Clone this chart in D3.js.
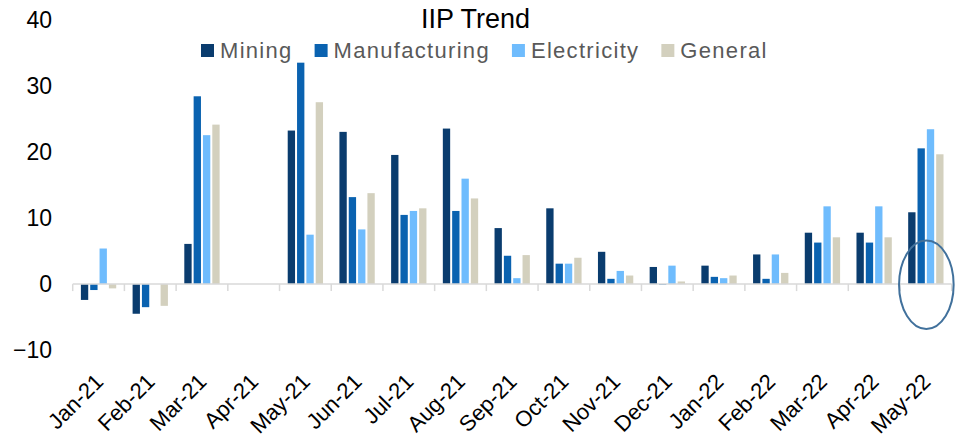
<!DOCTYPE html>
<html>
<head>
<meta charset="utf-8">
<script src="https://cdn.jsdelivr.net/npm/d3@7"></script>
<style>
  html, body { margin: 0; padding: 0; background: #fff; }
  svg { display: block; }
</style>
</head>
<body>
<svg id="chart" width="957" height="440"></svg>
<script>
const months = ["Jan-21","Feb-21","Mar-21","Apr-21","May-21","Jun-21","Jul-21","Aug-21","Sep-21","Oct-21","Nov-21","Dec-21","Jan-22","Feb-22","Mar-22","Apr-22","May-22"];
const seriesNames = ["Mining","Manufacturing","Electricity","General"];
const mining        = [-2.4, -4.5,  6.1, 0, 23.3, 23.1, 19.6, 23.6, 8.5, 11.5, 4.9,  2.6, 2.8, 4.5, 7.8, 7.8, 10.9];
const manufacturing = [-0.9, -3.5, 28.5, 0, 33.6, 13.2, 10.5, 11.1, 4.3,  3.1, 0.8, -0.1, 1.1, 0.8, 6.3, 6.3, 20.6];
const electricity   = [ 5.4,  0.0, 22.6, 0,  7.5,  8.3, 11.1, 16.0, 0.9,  3.1, 2.0,  2.8, 0.9, 4.5, 11.8, 11.8, 23.5];
const general       = [-0.65,-3.3, 24.2, 0, 27.6, 13.8, 11.5, 13.0, 4.4,  4.0, 1.3,  0.4, 1.3, 1.7, 7.1, 7.1, 19.7];
const yTicks = [-10, 0, 10, 20, 30, 40];
const colors = ["#0a3c6e", "#0a62b0", "#6fbcfd", "#d3d0be"];

const seriesValues = [mining, manufacturing, electricity, general];
const rows = months.map((m, i) => ({ month: m, values: seriesNames.map((s, j) => ({ key: s, value: seriesValues[j][i] })) }));

const svg = d3.select("#chart");

const x0 = d3.scaleBand().domain(months).range([72.7, 951.7]).padding(0);
const x1 = d3.scaleBand().domain(seriesNames).range([0, x0.bandwidth()]).paddingInner(0.215).paddingOuter(0.878);
const y = d3.scaleLinear().domain([-10, 40]).range([350, 20.5]);
const color = d3.scaleOrdinal().domain(seriesNames).range(colors);

// Y axis labels (no line)
const yAxis = d3.axisLeft(y).tickValues(yTicks).tickSize(0).tickPadding(0).tickFormat(d3.format("d"));
const yg = svg.append("g").attr("transform", "translate(52,0)").call(yAxis);
yg.select(".domain").remove();
yg.selectAll("text").attr("font-family", "Liberation Sans, Arial, sans-serif").attr("font-size", 23).attr("fill", "#000");

// Bars
const groups = svg.append("g").selectAll("g").data(rows).join("g")
  .attr("transform", d => `translate(${x0(d.month)},0)`);
groups.selectAll("rect").data(d => d.values).join("rect")
  .attr("x", d => x1(d.key))
  .attr("width", x1.bandwidth())
  .attr("y", d => y(Math.max(0, d.value)))
  .attr("height", d => Math.abs(y(d.value) - y(0)))
  .attr("fill", d => color(d.key));

// X axis line with ticks at band boundaries
const xg = svg.append("g");
xg.append("line").attr("x1", x0.range()[0]).attr("x2", x0.range()[1])
  .attr("y1", y(0)).attr("y2", y(0)).attr("stroke", "#d9d9d9").attr("stroke-width", 1.5);
xg.selectAll("line.tk").data(months.concat(["__end"])).join("line").attr("class", "tk")
  .attr("x1", (d, i) => x0.range()[0] + i * x0.step())
  .attr("x2", (d, i) => x0.range()[0] + i * x0.step())
  .attr("y1", y(0)).attr("y2", y(0) + 7)
  .attr("stroke", "#d9d9d9").attr("stroke-width", 1.5);

// X labels rotated
svg.append("g").selectAll("text").data(months).join("text")
  .attr("transform", d => `translate(${x0(d) + x0.bandwidth() / 2 + 6},${383}) rotate(-45)`)
  .attr("text-anchor", "end")
  .attr("font-family", "Liberation Sans, Arial, sans-serif")
  .attr("font-size", 22)
  .attr("fill", "#000")
  .text(d => d);

// Title
svg.append("text").attr("x", 475.5).attr("y", 28).attr("text-anchor", "middle")
  .attr("font-family", "Liberation Sans, Arial, sans-serif").attr("font-size", 27).attr("fill", "#000")
  .text("IIP Trend");

// Legend
const legend = svg.append("g");
let lx = 201;
seriesNames.forEach((s) => {
  legend.append("rect").attr("x", lx).attr("y", 44).attr("width", 13).attr("height", 13).attr("fill", color(s));
  const t = legend.append("text").attr("x", lx + 19).attr("y", 57.5)
    .attr("font-family", "Liberation Sans, Arial, sans-serif").attr("font-size", 22)
    .attr("letter-spacing", "1.3px").attr("fill", "#595959").text(s);
  lx += 19 + t.node().getComputedTextLength() + 22;
});

// Highlight ellipse around last period
const last = months[months.length - 1];
svg.append("ellipse")
  .attr("cx", x0(last) + x0.bandwidth() / 2 + 0.5)
  .attr("cy", y(0) + 0.7)
  .attr("rx", 27.3).attr("ry", 44.2)
  .attr("fill", "none").attr("stroke", "#41719c").attr("stroke-width", 2);
</script>
</body>
</html>
